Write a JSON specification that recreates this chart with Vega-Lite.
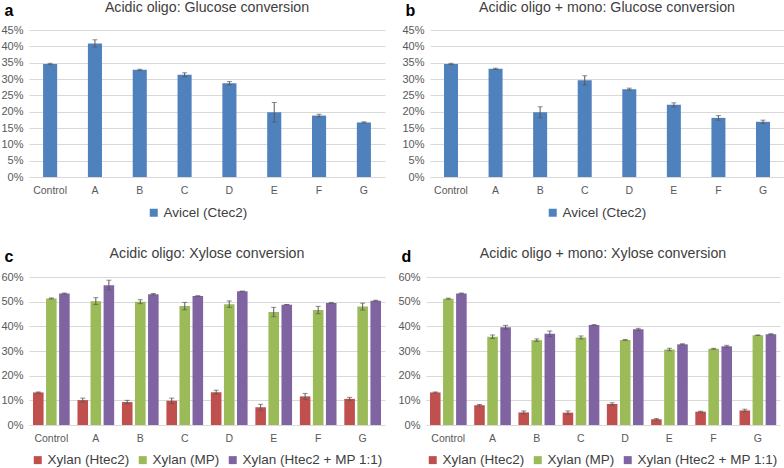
{
  "$schema": "https://vega.github.io/schema/vega-lite/v6.json",
  "padding": {"left": 0, "top": 0, "right": 0, "bottom": 0},
  "background": "white",
  "spacing": 26,
  "config": {
    "font": "Liberation Sans",
    "view": {"stroke": null},
    "axis": {"labelFont": "Liberation Sans", "labelColor": "#595959", "labelFontSize": 11},
    "axisX": {"labelFontSize": 10.5},
    "legend": {"labelFont": "Liberation Sans", "labelFontSize": 13.5, "labelColor": "#404040", "symbolType": "square", "symbolSize": 64, "symbolStrokeWidth": 0, "orient": "none", "direction": "horizontal", "title": null, "columnPadding": 6, "labelOffset": 3},
    "title": {"font": "Liberation Sans", "fontSize": 14.2, "fontWeight": "normal", "color": "#404040", "frame": "group", "anchor": "middle", "offset": -13},
    "concat": {"spacing": 16}
  },
  "datasets": {
    "a": [
      {"cat": "Control", "series": "Avicel (Ctec2)", "value": 0.346, "err": 0.002},
      {"cat": "A", "series": "Avicel (Ctec2)", "value": 0.409, "err": 0.011},
      {"cat": "B", "series": "Avicel (Ctec2)", "value": 0.328, "err": 0.002},
      {"cat": "C", "series": "Avicel (Ctec2)", "value": 0.313, "err": 0.006},
      {"cat": "D", "series": "Avicel (Ctec2)", "value": 0.287, "err": 0.005},
      {"cat": "E", "series": "Avicel (Ctec2)", "value": 0.198, "err": 0.030},
      {"cat": "F", "series": "Avicel (Ctec2)", "value": 0.188, "err": 0.004},
      {"cat": "G", "series": "Avicel (Ctec2)", "value": 0.167, "err": 0.002}
    ],
    "b": [
      {"cat": "Control", "series": "Avicel (Ctec2)", "value": 0.346, "err": 0.002},
      {"cat": "A", "series": "Avicel (Ctec2)", "value": 0.331, "err": 0.002},
      {"cat": "B", "series": "Avicel (Ctec2)", "value": 0.198, "err": 0.017},
      {"cat": "C", "series": "Avicel (Ctec2)", "value": 0.296, "err": 0.014},
      {"cat": "D", "series": "Avicel (Ctec2)", "value": 0.269, "err": 0.003},
      {"cat": "E", "series": "Avicel (Ctec2)", "value": 0.221, "err": 0.006},
      {"cat": "F", "series": "Avicel (Ctec2)", "value": 0.181, "err": 0.007},
      {"cat": "G", "series": "Avicel (Ctec2)", "value": 0.169, "err": 0.005}
    ],
    "c": [
      {"cat": "Control", "series": "Xylan (Htec2)", "value": 0.132, "err": 0.002},
      {"cat": "Control", "series": "Xylan (MP)", "value": 0.513, "err": 0.002},
      {"cat": "Control", "series": "Xylan (Htec2 + MP 1:1)", "value": 0.533, "err": 0.002},
      {"cat": "A", "series": "Xylan (Htec2)", "value": 0.101, "err": 0.008},
      {"cat": "A", "series": "Xylan (MP)", "value": 0.502, "err": 0.014},
      {"cat": "A", "series": "Xylan (Htec2 + MP 1:1)", "value": 0.567, "err": 0.020},
      {"cat": "B", "series": "Xylan (Htec2)", "value": 0.093, "err": 0.007},
      {"cat": "B", "series": "Xylan (MP)", "value": 0.500, "err": 0.008},
      {"cat": "B", "series": "Xylan (Htec2 + MP 1:1)", "value": 0.530, "err": 0.003},
      {"cat": "C", "series": "Xylan (Htec2)", "value": 0.098, "err": 0.011},
      {"cat": "C", "series": "Xylan (MP)", "value": 0.482, "err": 0.015},
      {"cat": "C", "series": "Xylan (Htec2 + MP 1:1)", "value": 0.523, "err": 0.001},
      {"cat": "D", "series": "Xylan (Htec2)", "value": 0.133, "err": 0.008},
      {"cat": "D", "series": "Xylan (MP)", "value": 0.490, "err": 0.013},
      {"cat": "D", "series": "Xylan (Htec2 + MP 1:1)", "value": 0.542, "err": 0.001},
      {"cat": "E", "series": "Xylan (Htec2)", "value": 0.072, "err": 0.012},
      {"cat": "E", "series": "Xylan (MP)", "value": 0.458, "err": 0.019},
      {"cat": "E", "series": "Xylan (Htec2 + MP 1:1)", "value": 0.488, "err": 0.001},
      {"cat": "F", "series": "Xylan (Htec2)", "value": 0.116, "err": 0.012},
      {"cat": "F", "series": "Xylan (MP)", "value": 0.466, "err": 0.015},
      {"cat": "F", "series": "Xylan (Htec2 + MP 1:1)", "value": 0.495, "err": 0.002},
      {"cat": "G", "series": "Xylan (Htec2)", "value": 0.106, "err": 0.006},
      {"cat": "G", "series": "Xylan (MP)", "value": 0.480, "err": 0.014},
      {"cat": "G", "series": "Xylan (Htec2 + MP 1:1)", "value": 0.504, "err": 0.002}
    ],
    "d": [
      {"cat": "Control", "series": "Xylan (Htec2)", "value": 0.132, "err": 0.002},
      {"cat": "Control", "series": "Xylan (MP)", "value": 0.512, "err": 0.002},
      {"cat": "Control", "series": "Xylan (Htec2 + MP 1:1)", "value": 0.533, "err": 0.002},
      {"cat": "A", "series": "Xylan (Htec2)", "value": 0.080, "err": 0.003},
      {"cat": "A", "series": "Xylan (MP)", "value": 0.358, "err": 0.007},
      {"cat": "A", "series": "Xylan (Htec2 + MP 1:1)", "value": 0.396, "err": 0.008},
      {"cat": "B", "series": "Xylan (Htec2)", "value": 0.051, "err": 0.006},
      {"cat": "B", "series": "Xylan (MP)", "value": 0.344, "err": 0.005},
      {"cat": "B", "series": "Xylan (Htec2 + MP 1:1)", "value": 0.370, "err": 0.011},
      {"cat": "C", "series": "Xylan (Htec2)", "value": 0.050, "err": 0.007},
      {"cat": "C", "series": "Xylan (MP)", "value": 0.355, "err": 0.006},
      {"cat": "C", "series": "Xylan (Htec2 + MP 1:1)", "value": 0.405, "err": 0.002},
      {"cat": "D", "series": "Xylan (Htec2)", "value": 0.085, "err": 0.005},
      {"cat": "D", "series": "Xylan (MP)", "value": 0.345, "err": 0.002},
      {"cat": "D", "series": "Xylan (Htec2 + MP 1:1)", "value": 0.388, "err": 0.004},
      {"cat": "E", "series": "Xylan (Htec2)", "value": 0.023, "err": 0.003},
      {"cat": "E", "series": "Xylan (MP)", "value": 0.306, "err": 0.005},
      {"cat": "E", "series": "Xylan (Htec2 + MP 1:1)", "value": 0.327, "err": 0.002},
      {"cat": "F", "series": "Xylan (Htec2)", "value": 0.054, "err": 0.002},
      {"cat": "F", "series": "Xylan (MP)", "value": 0.309, "err": 0.002},
      {"cat": "F", "series": "Xylan (Htec2 + MP 1:1)", "value": 0.319, "err": 0.004},
      {"cat": "G", "series": "Xylan (Htec2)", "value": 0.059, "err": 0.005},
      {"cat": "G", "series": "Xylan (MP)", "value": 0.364, "err": 0.001},
      {"cat": "G", "series": "Xylan (Htec2 + MP 1:1)", "value": 0.368, "err": 0.002}
    ]
  },
  "resolve": {"scale": {"color": "independent", "y": "independent", "x": "independent"}, "legend": {"color": "independent"}},
  "vconcat": [
    {
      "resolve": {"scale": {"color": "independent", "y": "independent", "x": "independent"}, "legend": {"color": "independent"}},
      "hconcat": [
        {
          "title": "Acidic oligo: Glucose conversion",
          "width": 356, "height": 147,
          "data": {"name": "a"},
          "encoding": {
            "x": {"field": "cat", "type": "nominal", "sort": ["Control", "A", "B", "C", "D", "E", "F", "G"], "scale": {"paddingInner": 0.686, "paddingOuter": 0.314}, "axis": {"title": null, "labelAngle": 0, "domain": false, "ticks": false, "labelPadding": 8}},
            "y": {"field": "value", "type": "quantitative", "scale": {"domain": [0, 0.45]}, "axis": {"values": [0, 0.05, 0.1, 0.15, 0.2, 0.25, 0.3, 0.35, 0.4, 0.45], "format": ".0%", "domain": false, "ticks": false, "gridColor": "#d9d9d9", "labelPadding": 6, "title": "a", "titleAngle": 0, "titleX": -25, "titleY": -15, "titleAlign": "left", "titleBaseline": "alphabetic", "titleFontSize": 16, "titleFontWeight": "bold", "titleColor": "#000000"}}
          },
          "layer": [
            {"mark": {"type": "bar"}, "encoding": {"color": {"field": "series", "type": "nominal", "scale": {"range": ["#4f81bd"]}, "legend": {"legendX": 118, "legendY": 176}}}},
            {"mark": {"type": "errorbar", "ticks": {"size": 5, "color": "#595959"}, "color": "#595959"}, "encoding": {"yError": {"field": "err"}}}
          ]
        },
        {
          "title": "Acidic oligo + mono: Glucose conversion",
          "width": 354, "height": 147,
          "data": {"name": "b"},
          "encoding": {
            "x": {"field": "cat", "type": "nominal", "sort": ["Control", "A", "B", "C", "D", "E", "F", "G"], "scale": {"paddingInner": 0.686, "paddingOuter": 0.314}, "axis": {"title": null, "labelAngle": 0, "domain": false, "ticks": false, "labelPadding": 8}},
            "y": {"field": "value", "type": "quantitative", "scale": {"domain": [0, 0.45]}, "axis": {"values": [0, 0.05, 0.1, 0.15, 0.2, 0.25, 0.3, 0.35, 0.4, 0.45], "format": ".0%", "domain": false, "ticks": false, "gridColor": "#d9d9d9", "labelPadding": 6, "title": "b", "titleAngle": 0, "titleX": -25, "titleY": -15, "titleAlign": "left", "titleBaseline": "alphabetic", "titleFontSize": 16, "titleFontWeight": "bold", "titleColor": "#000000"}}
          },
          "layer": [
            {"mark": {"type": "bar"}, "encoding": {"color": {"field": "series", "type": "nominal", "scale": {"range": ["#4f81bd"]}, "legend": {"legendX": 116, "legendY": 176}}}},
            {"mark": {"type": "errorbar", "ticks": {"size": 5, "color": "#595959"}, "color": "#595959"}, "encoding": {"yError": {"field": "err"}}}
          ]
        }
      ]
    },
    {
      "spacing": 12,
      "resolve": {"scale": {"color": "independent", "y": "independent", "x": "independent"}, "legend": {"color": "independent"}},
      "hconcat": [
        {
          "title": "Acidic oligo: Xylose conversion",
          "width": 356, "height": 148,
          "data": {"name": "c"},
          "encoding": {
            "x": {"field": "cat", "type": "nominal", "sort": ["Control", "A", "B", "C", "D", "E", "F", "G"], "scale": {"paddingInner": 0.175, "paddingOuter": 0.09}, "axis": {"title": null, "labelAngle": 0, "domain": false, "ticks": false, "labelPadding": 8}},
            "xOffset": {"field": "series", "type": "nominal", "sort": ["Xylan (Htec2)", "Xylan (MP)", "Xylan (Htec2 + MP 1:1)"], "scale": {"paddingInner": 0.19}},
            "y": {"field": "value", "type": "quantitative", "scale": {"domain": [0, 0.6]}, "axis": {"values": [0, 0.1, 0.2, 0.3, 0.4, 0.5, 0.6], "format": ".0%", "domain": false, "ticks": false, "gridColor": "#d9d9d9", "labelPadding": 6, "title": "c", "titleAngle": 0, "titleX": -25, "titleY": -16, "titleAlign": "left", "titleBaseline": "alphabetic", "titleFontSize": 16, "titleFontWeight": "bold", "titleColor": "#000000"}}
          },
          "layer": [
            {"mark": {"type": "bar"}, "encoding": {"color": {"field": "series", "type": "nominal", "sort": ["Xylan (Htec2)", "Xylan (MP)", "Xylan (Htec2 + MP 1:1)"], "scale": {"domain": ["Xylan (Htec2)", "Xylan (MP)", "Xylan (Htec2 + MP 1:1)"], "range": ["#c0504d", "#9bbb59", "#8064a2"]}, "legend": {"legendX": 2, "legendY": 176}}}},
            {"mark": {"type": "errorbar", "ticks": {"size": 5, "color": "#595959"}, "color": "#595959"}, "encoding": {"yError": {"field": "err"}}}
          ]
        },
        {
          "title": "Acidic oligo + mono: Xylose conversion",
          "width": 354, "height": 148,
          "data": {"name": "d"},
          "encoding": {
            "x": {"field": "cat", "type": "nominal", "sort": ["Control", "A", "B", "C", "D", "E", "F", "G"], "scale": {"paddingInner": 0.175, "paddingOuter": 0.09}, "axis": {"title": null, "labelAngle": 0, "domain": false, "ticks": false, "labelPadding": 8}},
            "xOffset": {"field": "series", "type": "nominal", "sort": ["Xylan (Htec2)", "Xylan (MP)", "Xylan (Htec2 + MP 1:1)"], "scale": {"paddingInner": 0.19}},
            "y": {"field": "value", "type": "quantitative", "scale": {"domain": [0, 0.6]}, "axis": {"values": [0, 0.1, 0.2, 0.3, 0.4, 0.5, 0.6], "format": ".0%", "domain": false, "ticks": false, "gridColor": "#d9d9d9", "labelPadding": 6, "title": "d", "titleAngle": 0, "titleX": -25, "titleY": -16, "titleAlign": "left", "titleBaseline": "alphabetic", "titleFontSize": 16, "titleFontWeight": "bold", "titleColor": "#000000"}}
          },
          "layer": [
            {"mark": {"type": "bar"}, "encoding": {"color": {"field": "series", "type": "nominal", "sort": ["Xylan (Htec2)", "Xylan (MP)", "Xylan (Htec2 + MP 1:1)"], "scale": {"domain": ["Xylan (Htec2)", "Xylan (MP)", "Xylan (Htec2 + MP 1:1)"], "range": ["#c0504d", "#9bbb59", "#8064a2"]}, "legend": {"legendX": 0, "legendY": 176}}}},
            {"mark": {"type": "errorbar", "ticks": {"size": 5, "color": "#595959"}, "color": "#595959"}, "encoding": {"yError": {"field": "err"}}}
          ]
        }
      ]
    }
  ]
}
